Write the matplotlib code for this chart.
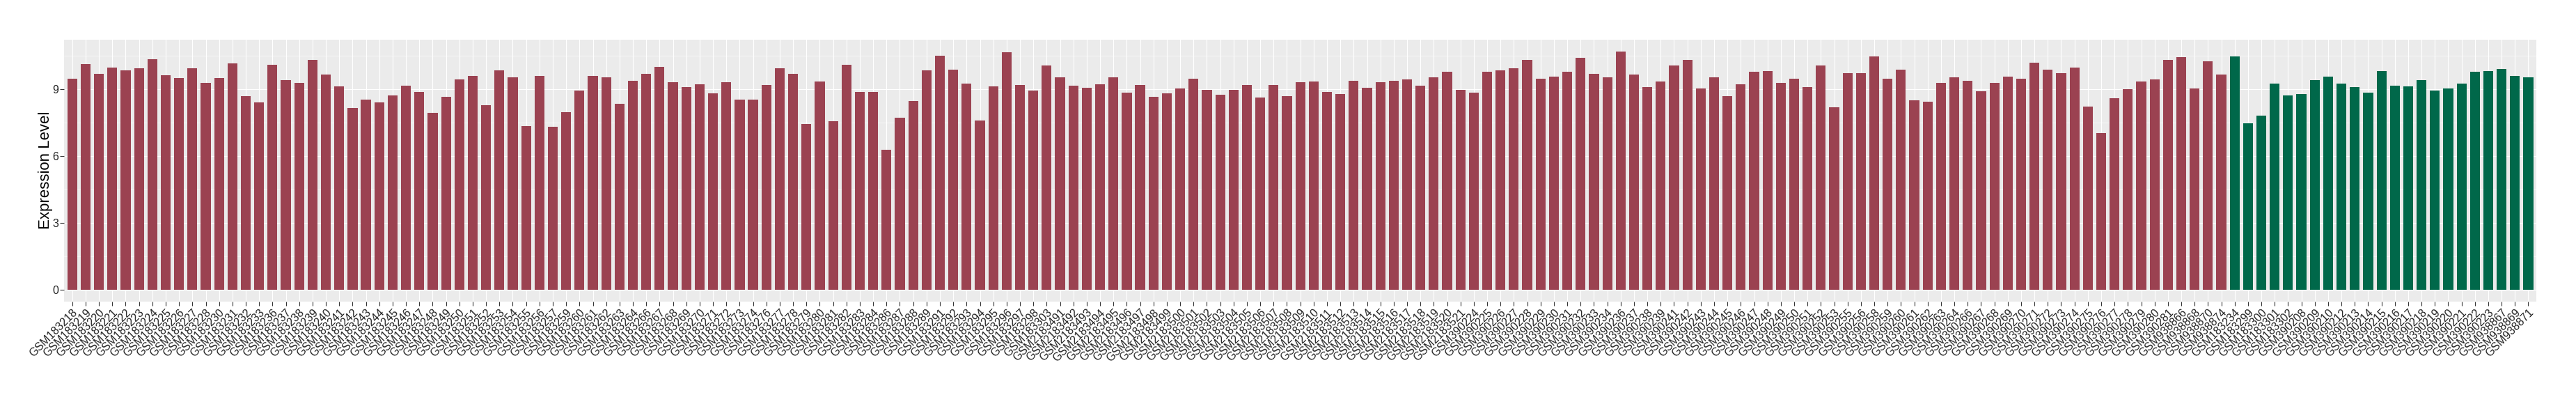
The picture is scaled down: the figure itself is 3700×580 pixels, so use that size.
import numpy as np
import matplotlib
matplotlib.use("Agg")
import matplotlib.pyplot as plt
from matplotlib.ticker import MultipleLocator

plt.rcParams['font.family'] = ['Liberation Sans', 'DejaVu Sans']

# first group (red bars)
samples_a = [
    'GSM183218', 'GSM183219', 'GSM183220', 'GSM183221', 'GSM183222', 'GSM183223', 'GSM183224',
    'GSM183225', 'GSM183226', 'GSM183227', 'GSM183228', 'GSM183230', 'GSM183231', 'GSM183232',
    'GSM183233', 'GSM183236', 'GSM183237', 'GSM183238', 'GSM183239', 'GSM183240', 'GSM183241',
    'GSM183242', 'GSM183243', 'GSM183244', 'GSM183245', 'GSM183246', 'GSM183247', 'GSM183248',
    'GSM183249', 'GSM183250', 'GSM183251', 'GSM183252', 'GSM183253', 'GSM183254', 'GSM183255',
    'GSM183256', 'GSM183257', 'GSM183259', 'GSM183260', 'GSM183261', 'GSM183262', 'GSM183263',
    'GSM183264', 'GSM183266', 'GSM183267', 'GSM183268', 'GSM183269', 'GSM183270', 'GSM183271',
    'GSM183272', 'GSM183273', 'GSM183274', 'GSM183276', 'GSM183277', 'GSM183278', 'GSM183279',
    'GSM183280', 'GSM183281', 'GSM183282', 'GSM183283', 'GSM183284', 'GSM183286', 'GSM183287',
    'GSM183288', 'GSM183289', 'GSM183291', 'GSM183292', 'GSM183293', 'GSM183294', 'GSM183295',
    'GSM183296', 'GSM183297', 'GSM183298', 'GSM183303',
    'GSM2183491', 'GSM2183492', 'GSM2183493', 'GSM2183494', 'GSM2183495', 'GSM2183496',
    'GSM2183497', 'GSM2183498', 'GSM2183499', 'GSM2183500', 'GSM2183501', 'GSM2183502',
    'GSM2183503', 'GSM2183504', 'GSM2183505', 'GSM2183506', 'GSM2183507', 'GSM2183508',
    'GSM2183509', 'GSM2183510', 'GSM2183511', 'GSM2183512', 'GSM2183513', 'GSM2183514',
    'GSM2183515', 'GSM2183516', 'GSM2183517', 'GSM2183518', 'GSM2183519', 'GSM2183520',
    'GSM2183521',
    'GSM390224', 'GSM390225', 'GSM390226', 'GSM390227', 'GSM390228', 'GSM390229', 'GSM390230',
    'GSM390231', 'GSM390232', 'GSM390233', 'GSM390234', 'GSM390236', 'GSM390237', 'GSM390238',
    'GSM390239', 'GSM390241', 'GSM390242', 'GSM390243', 'GSM390244', 'GSM390245', 'GSM390246',
    'GSM390247', 'GSM390248', 'GSM390249', 'GSM390250', 'GSM390251', 'GSM390252', 'GSM390253',
    'GSM390255', 'GSM390256', 'GSM390258', 'GSM390259', 'GSM390260', 'GSM390261', 'GSM390262',
    'GSM390263', 'GSM390264', 'GSM390266', 'GSM390267', 'GSM390268', 'GSM390269', 'GSM390270',
    'GSM390271', 'GSM390272', 'GSM390273', 'GSM390274', 'GSM390275', 'GSM390276', 'GSM390277',
    'GSM390278', 'GSM390279', 'GSM390280', 'GSM390281',
    'GSM938866', 'GSM938868', 'GSM938870', 'GSM938874',
]
values_a = [
    9.46, 10.12, 9.68, 9.95, 9.83, 9.92, 10.34,
    9.61, 9.51, 9.92, 9.27, 9.51, 10.14, 8.67,
    8.39, 10.08, 9.39, 9.27, 10.30, 9.64, 9.11,
    8.14, 8.52, 8.39, 8.72, 9.16, 8.88, 7.94,
    8.66, 9.44, 9.59, 8.28, 9.84, 9.53, 7.34,
    9.59, 7.31, 7.97, 8.94, 9.59, 9.53, 8.34,
    9.38, 9.69, 10.00, 9.31, 9.09, 9.22, 8.81,
    9.31, 8.53, 8.53, 9.19, 9.94, 9.69, 7.44,
    9.34, 7.56, 10.09, 8.88, 8.88, 6.28, 7.72,
    8.47, 9.84, 10.50, 9.88, 9.25, 7.59, 9.13,
    10.66, 9.19, 8.94, 10.06,
    9.53, 9.16, 9.06, 9.22, 9.53, 8.84,
    9.19, 8.66, 8.81, 9.03, 9.47, 8.97,
    8.75, 8.97, 9.19, 8.63, 9.19, 8.69,
    9.31, 9.34, 8.88, 8.78, 9.38, 9.06,
    9.31, 9.38, 9.44, 9.16, 9.53, 9.78,
    8.97,
    8.84, 9.78, 9.84, 9.94, 10.31, 9.47, 9.56,
    9.78, 10.41, 9.69, 9.53, 10.69, 9.66, 9.09,
    9.34, 10.06, 10.31, 9.03, 9.53, 8.69, 9.22,
    9.78, 9.81, 9.28, 9.47, 9.09, 10.06, 8.19,
    9.72, 9.72, 10.47, 9.47, 9.88, 8.50, 8.44,
    9.28, 9.53, 9.38, 8.91, 9.28, 9.56, 9.47,
    10.19, 9.88, 9.72, 9.97, 8.22, 7.03, 8.59,
    9.00, 9.34, 9.44, 10.31,
    10.44, 9.03, 10.25, 9.66,
]

# second group (green bars)
samples_b = [
    'GSM183234', 'GSM183299', 'GSM183300', 'GSM183301', 'GSM183302',
    'GSM390208', 'GSM390209', 'GSM390210', 'GSM390212', 'GSM390213', 'GSM390214',
    'GSM390215', 'GSM390216', 'GSM390217', 'GSM390218', 'GSM390219', 'GSM390220',
    'GSM390221', 'GSM390222', 'GSM390223',
    'GSM938867', 'GSM938869', 'GSM938871',
]
values_b = [
    10.47, 7.47, 7.81, 9.25, 8.72,
    8.78, 9.41, 9.56, 9.25, 9.09, 8.84,
    9.81, 9.16, 9.13, 9.41, 8.94, 9.03,
    9.25, 9.78, 9.81,
    9.91, 9.59, 9.53,
]

color_a = '#9b4251'
color_b = '#00684a'

fig = plt.figure(figsize=(37, 5.8), dpi=100)
ax = fig.add_axes([92.3/3700, 1 - 432.7/580, (3643 - 92.3)/3700, (432.7 - 56.7)/580])

samples = samples_a + samples_b
x = np.arange(len(samples))
ax.bar(x[:len(samples_a)], values_a, width=0.74, color=color_a, zorder=3)
ax.bar(x[len(samples_a):], values_b, width=0.74, color=color_b, zorder=3)

# ggplot-like look
ax.set_facecolor('#ebebeb')
for s in ax.spines.values():
    s.set_visible(False)
top = max(values_a + values_b)
ax.set_ylim(-0.05 * top, 1.05 * top)
ax.set_xlim(-0.6, len(samples) - 1 + 0.6)
ax.yaxis.set_major_locator(MultipleLocator(3))
ax.yaxis.set_minor_locator(MultipleLocator(1.5))
ax.grid(which='major', color='white', linewidth=0.8, zorder=0)
ax.grid(which='minor', axis='y', color='white', linewidth=0.4, zorder=0)
ax.set_axisbelow(True)
ax.tick_params(axis='y', which='minor', length=0)
ax.tick_params(axis='both', which='major', length=4, width=0.8, color='#333333',
               labelsize=11.5, labelcolor='#222222', pad=2)

ax.set_xticks(x)
ax.set_xticklabels(samples, rotation=45, ha='right', va='top', rotation_mode='anchor')

fig.text(65/3700, 1 - 244.7/580, 'Expression Level', rotation=90,
         ha='center', va='center', fontsize=16, color='black')

fig.savefig('out.png', dpi=100)
